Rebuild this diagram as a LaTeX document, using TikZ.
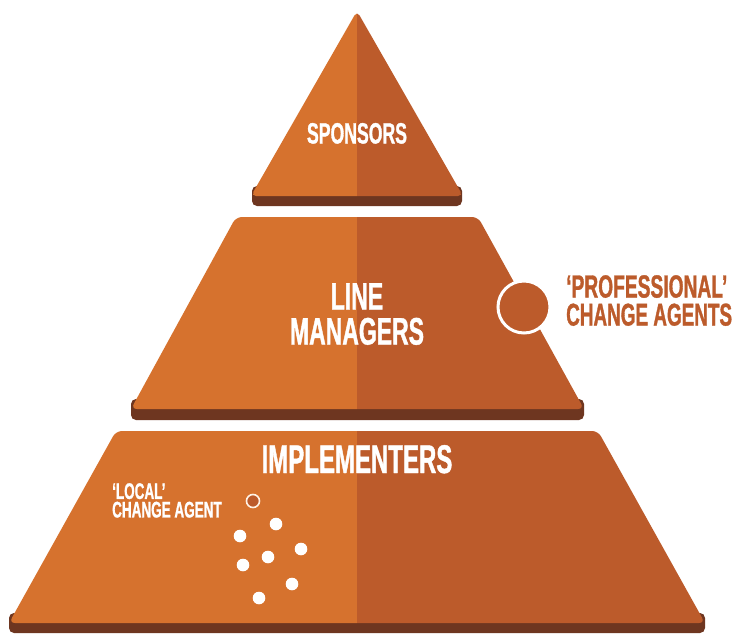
\documentclass[tikz,border=0pt]{standalone}
\usepackage{fontspec}
\newfontfamily\bebas[FakeStretch=0.6,FakeBold=1]{Liberation Sans}
\definecolor{lightor}{HTML}{D6722E}
\definecolor{darkor}{HTML}{BC5B2B}
\definecolor{shadowbr}{HTML}{6E3620}
\tikzset{
  lbl/.style={text=white, inner sep=0pt, anchor=base},
  agent/.style={text=darkor, inner sep=0pt, anchor=north west, align=left},
  shadowbar/.style={fill=shadowbr, rounded corners=5pt},
  dot/.style={fill=white},
}
\begin{document}
\begin{tikzpicture}[x=1pt,y=-1pt]
\useasboundingbox (0,0) rectangle (732,633);
\fill[white] (0,0) rectangle (732,633);
% shadows
\fill[shadowbar] (252,186) rectangle (462,206);
\fill[shadowbar] (131,399) rectangle (584,420);
\fill[shadowbar] (9,613) rectangle (705,633);
% top triangle
\begin{scope}
\clip[rounded corners=5pt] (357,11) -- (463,196) -- (251,196) -- cycle;
\fill[lightor] (0,0) rectangle (357,633);
\fill[darkor] (357,0) rectangle (732,633);
\end{scope}
% middle trapezoid
\begin{scope}
\clip[rounded corners=6pt] (236,217) -- (478,217) -- (584,409) -- (131,409) -- cycle;
\fill[lightor] (0,0) rectangle (357,633);
\fill[darkor] (357,0) rectangle (732,633);
\end{scope}
% bottom trapezoid
\begin{scope}
\clip[rounded corners=6pt] (116,431) -- (598,431) -- (705,623) -- (9,623) -- cycle;
\fill[lightor] (0,0) rectangle (357,633);
\fill[darkor] (357,0) rectangle (732,633);
\end{scope}
% texts
\node[lbl, font=\bebas\bfseries\fontsize{29.4}{30}\selectfont] (spons) at (357,143.5) {SPONSORS};
\node[lbl, anchor=north, align=center, font=\bebas\bfseries\fontsize{38.3}{35}\selectfont] (mgr) at (357,283) {LINE\\MANAGERS};
\node[lbl, font=\bebas\bfseries\fontsize{40}{40}\selectfont] (impl) at (357,473) {IMPLEMENTERS};
% professional change agents
\draw[white, line width=3pt, fill=darkor] (524,307) circle[radius=26pt];
\node[agent, font=\bebas\bfseries\fontsize{32}{28}\selectfont] (prof) at (566,275) {‘PROFESSIONAL’\\{\fontsize{31.5}{28}\selectfont CHANGE AGENTS}};
% local change agent
\node[lbl, anchor=north west, align=left, font=\bebas\bfseries\fontsize{22.5}{18.5}\selectfont] (loc) at (112,483) {‘LOCAL’\\CHANGE AGENT};
\draw[white!90!orange, line width=1.6pt, fill=darkor] (253,501) circle[radius=6.5pt];
\foreach \px/\py in {276/524, 240/536, 301/549, 268/557, 243/565, 292/584, 259/598}
  \fill[dot] (\px,\py) circle[radius=6.3pt];
\end{tikzpicture}
\end{document}
